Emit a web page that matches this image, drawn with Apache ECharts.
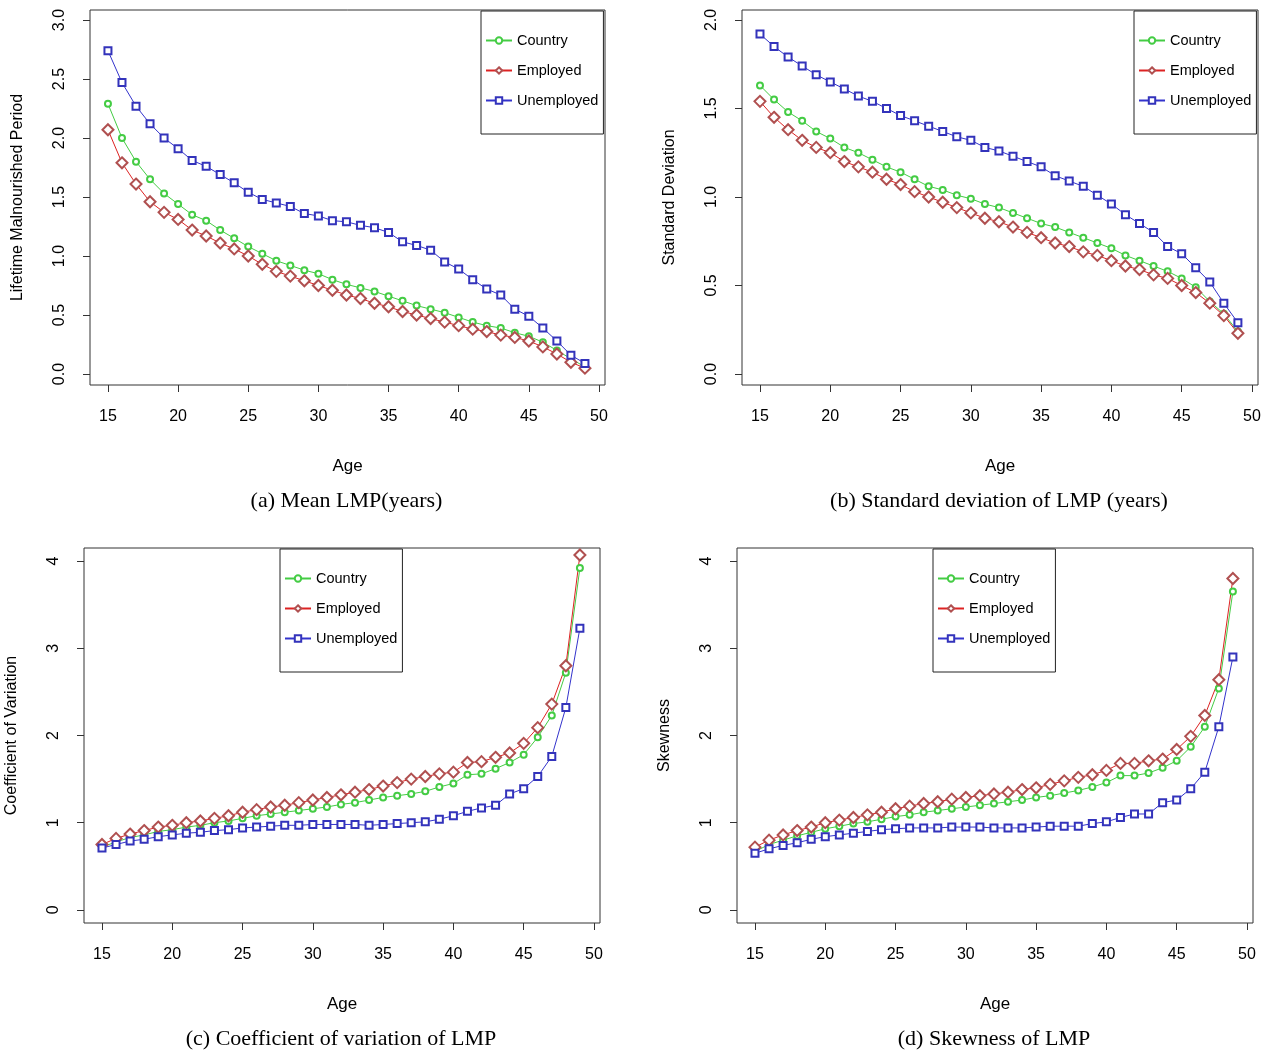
<!DOCTYPE html>
<html>
<head>
<meta charset="utf-8">
<title>LMP</title>
<script src="https://cdn.jsdelivr.net/npm/echarts@6/dist/echarts.min.js"></script>
<style>body{margin:0;background:#fff}</style>
</head>
<body>
<div id="main" style="width:1269px;height:1055px;"></div>
<script>
var ages = [];
for (var a = 15; a <= 49; a++) ages.push(a);
var xTicks = [15, 20, 25, 30, 35, 40, 45, 50];

// (a) mean LMP
var meanCountry = [2.29,2.00,1.80,1.65,1.53,1.44,1.35,1.30,1.22,1.15,1.08,1.02,0.96,0.92,0.88,0.85,0.80,0.76,0.73,0.70,0.66,0.62,0.58,0.55,0.52,0.48,0.44,0.41,0.39,0.35,0.32,0.27,0.20,0.13,0.06];
var meanEmployed = [2.07,1.79,1.61,1.46,1.37,1.31,1.22,1.17,1.11,1.06,1.00,0.93,0.87,0.83,0.79,0.75,0.71,0.67,0.64,0.60,0.57,0.53,0.50,0.47,0.44,0.41,0.38,0.36,0.33,0.31,0.28,0.23,0.17,0.10,0.05];
var meanUnemployed = [2.74,2.47,2.27,2.12,2.00,1.91,1.81,1.76,1.69,1.62,1.54,1.48,1.45,1.42,1.36,1.34,1.30,1.29,1.26,1.24,1.20,1.12,1.09,1.05,0.95,0.89,0.80,0.72,0.67,0.55,0.49,0.39,0.28,0.16,0.09];
// (b) standard deviation
var sdCountry = [1.63,1.55,1.48,1.43,1.37,1.33,1.28,1.25,1.21,1.17,1.14,1.10,1.06,1.04,1.01,0.99,0.96,0.94,0.91,0.88,0.85,0.83,0.80,0.77,0.74,0.71,0.67,0.64,0.61,0.58,0.54,0.49,0.41,0.34,0.24];
var sdEmployed = [1.54,1.45,1.38,1.32,1.28,1.25,1.20,1.17,1.14,1.10,1.07,1.03,1.00,0.97,0.94,0.91,0.88,0.86,0.83,0.80,0.77,0.74,0.72,0.69,0.67,0.64,0.61,0.59,0.56,0.54,0.50,0.46,0.40,0.33,0.23];
var sdUnemployed = [1.92,1.85,1.79,1.74,1.69,1.65,1.61,1.57,1.54,1.50,1.46,1.43,1.40,1.37,1.34,1.32,1.28,1.26,1.23,1.20,1.17,1.12,1.09,1.06,1.01,0.96,0.90,0.85,0.80,0.72,0.68,0.60,0.52,0.40,0.29];
// (c) coefficient of variation
var cvCountry = [0.72,0.78,0.83,0.86,0.90,0.92,0.95,0.97,1.00,1.02,1.05,1.08,1.10,1.12,1.14,1.16,1.18,1.21,1.23,1.26,1.29,1.31,1.33,1.36,1.41,1.45,1.55,1.56,1.62,1.69,1.78,1.98,2.23,2.72,3.92];
var cvEmployed = [0.75,0.82,0.87,0.91,0.95,0.97,1.00,1.02,1.05,1.08,1.12,1.15,1.18,1.20,1.23,1.26,1.29,1.32,1.35,1.38,1.42,1.46,1.50,1.53,1.56,1.58,1.69,1.70,1.75,1.80,1.91,2.09,2.36,2.80,4.07];
var cvUnemployed = [0.71,0.75,0.79,0.81,0.84,0.86,0.88,0.89,0.91,0.92,0.94,0.95,0.96,0.97,0.97,0.98,0.98,0.98,0.98,0.97,0.98,0.99,1.00,1.01,1.04,1.08,1.13,1.17,1.20,1.33,1.39,1.53,1.76,2.32,3.23];
// (d) skewness
var skCountry = [0.67,0.75,0.80,0.85,0.89,0.93,0.96,0.99,1.01,1.04,1.07,1.09,1.12,1.14,1.16,1.18,1.20,1.22,1.24,1.26,1.29,1.31,1.34,1.37,1.41,1.46,1.54,1.54,1.57,1.63,1.71,1.87,2.10,2.54,3.65];
var skEmployed = [0.72,0.80,0.86,0.91,0.95,1.00,1.03,1.06,1.09,1.12,1.16,1.19,1.22,1.24,1.27,1.29,1.31,1.33,1.35,1.38,1.40,1.44,1.48,1.52,1.55,1.60,1.68,1.68,1.71,1.73,1.84,1.99,2.23,2.64,3.80];
var skUnemployed = [0.65,0.70,0.74,0.77,0.81,0.84,0.86,0.88,0.90,0.92,0.93,0.94,0.94,0.94,0.95,0.95,0.95,0.94,0.94,0.94,0.95,0.96,0.96,0.96,0.99,1.01,1.06,1.10,1.10,1.23,1.26,1.39,1.58,2.10,2.90];

var panels = [
  {box: [90, 10, 515, 375], ymin: -0.093, ymax: 3.085, yTicks: ['0.0','0.5','1.0','1.5','2.0','2.5','3.0'],
   yName: 'Lifetime Malnourished Period', title: '(a) Mean LMP(years)', data: [meanCountry, meanEmployed, meanUnemployed]},
  {box: [742, 10, 516, 375], ymin: -0.062, ymax: 2.056, yTicks: ['0.0','0.5','1.0','1.5','2.0'],
   yName: 'Standard Deviation', title: '(b) Standard deviation of LMP (years)', data: [sdCountry, sdEmployed, sdUnemployed]},
  {box: [84, 548, 516, 375], ymin: -0.15, ymax: 4.15, yTicks: ['0','1','2','3','4'],
   yName: 'Coefficient of Variation', title: '(c) Coefficient of variation of LMP', data: [cvCountry, cvEmployed, cvUnemployed]},
  {box: [737, 548, 516, 375], ymin: -0.15, ymax: 4.15, yTicks: ['0','1','2','3','4'],
   yName: 'Skewness', title: '(d) Skewness of LMP', data: [skCountry, skEmployed, skUnemployed]}
];

var seriesStyle = [
  {name: 'Country', symbol: 'emptyCircle', size: 6, line: '#44cc44', mark: '#44cc44'},
  {name: 'Employed', symbol: 'emptyDiamond', size: 11, line: '#dd2222', mark: '#b05050'},
  {name: 'Unemployed', symbol: 'emptyRect', size: 7, line: '#3333cc', mark: '#3333bb'}
];

var font = 'Arial, Liberation Sans, sans-serif';
var grid = [], xAxis = [], yAxis = [], series = [], legend = [], title = [];

panels.forEach(function (p, i) {
  var b = p.box;
  grid.push({left: b[0], top: b[1], width: b[2], height: b[3], show: true,
    borderColor: '#333', borderWidth: 1, backgroundColor: 'transparent'});
  xAxis.push({type: 'value', gridIndex: i, min: 13.72, max: 50.43,
    name: 'Age', nameLocation: 'middle', nameGap: 73,
    nameTextStyle: {fontSize: 17, fontFamily: font, color: '#000'},
    axisLine: {show: false, onZero: false}, splitLine: {show: false},
    axisTick: {show: true, length: 7, lineStyle: {color: '#333'}, customValues: xTicks},
    axisLabel: {fontSize: 16, fontFamily: font, color: '#000', margin: 24, customValues: xTicks}});
  var yv = p.yTicks.map(Number);
  yAxis.push({type: 'value', gridIndex: i, min: p.ymin, max: p.ymax,
    name: p.yName, nameLocation: 'middle', nameGap: 64,
    nameTextStyle: {fontSize: 16, fontFamily: font, color: '#000'},
    axisLine: {show: false, onZero: false}, splitLine: {show: false},
    axisTick: {show: true, length: 7, lineStyle: {color: '#333'}, customValues: yv},
    axisLabel: {fontSize: 16, fontFamily: font, color: '#000', rotate: 90, margin: 22,
      customValues: yv, formatter: function (v) { return p.yTicks[yv.indexOf(v)] || v; }}});
  seriesStyle.forEach(function (s, k) {
    series.push({name: s.name, type: 'line', xAxisIndex: i, yAxisIndex: i,
      data: ages.map(function (a, j) { return [a, p.data[k][j]]; }),
      symbol: s.symbol, symbolSize: s.size, animation: false,
      lineStyle: {color: s.line, width: 1},
      itemStyle: {color: s.mark, borderWidth: 1}});
  });
  var lx = (i % 2 === 0) ? (i === 0 ? 481 : 280) : (i === 1 ? 1134 : 933);
  legend.push({top: b[1] + 1, left: lx, orient: 'vertical', itemGap: 15,
    padding: [22, 5, 26, 4], borderColor: '#222', borderWidth: 1, backgroundColor: '#fff',
    itemWidth: 26, itemHeight: 8, selectedMode: false,
    textStyle: {fontSize: 14.5, fontFamily: font, color: '#000'},
    data: seriesStyle.map(function (s) { return s.name; })});
  title.push({text: p.title, left: b[0] + b[2] / 2 - 6, top: b[1] + 475, textAlign: 'center',
    textStyle: {fontSize: 22, fontWeight: 'normal', fontFamily: 'Liberation Serif, DejaVu Serif, serif', color: '#000'}});
});

var myChart = echarts.init(document.getElementById('main'));
myChart.setOption({backgroundColor: '#fff', animation: false, title: title, legend: legend,
  grid: grid, xAxis: xAxis, yAxis: yAxis, series: series});
</script>
</body>
</html>
